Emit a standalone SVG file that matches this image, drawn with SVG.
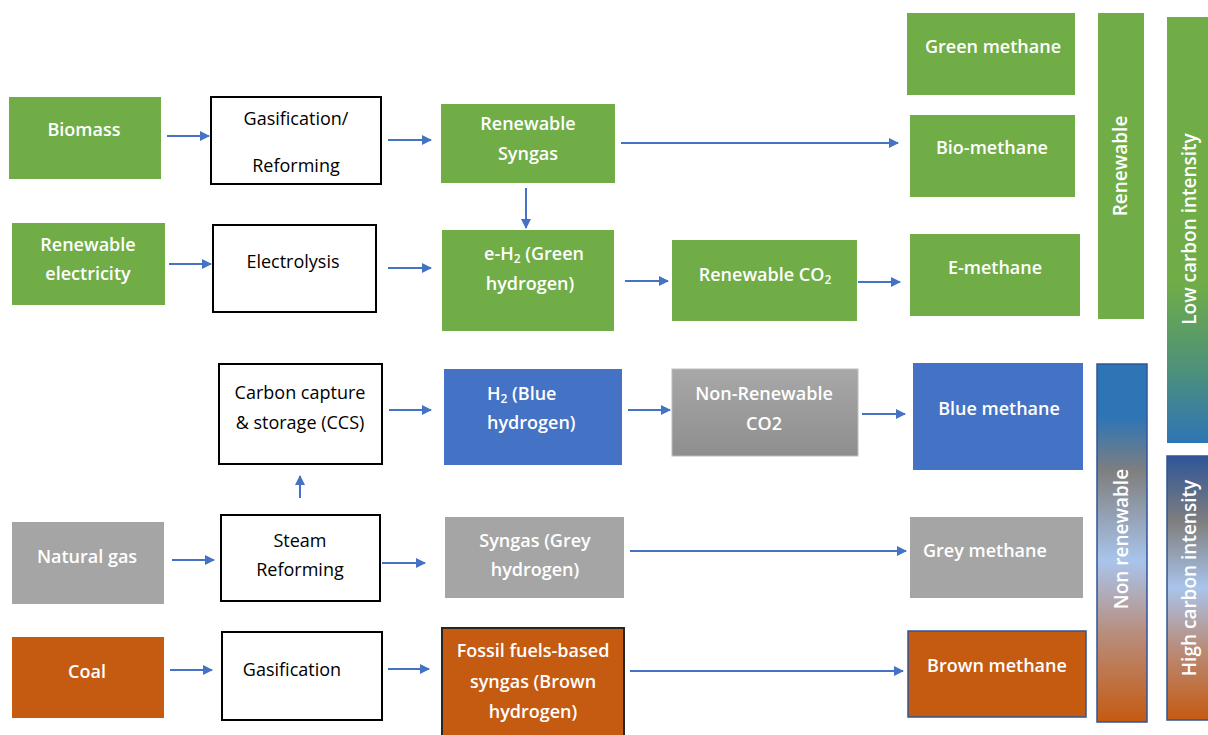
<svg xmlns="http://www.w3.org/2000/svg" width="1208" height="735" viewBox="0 0 1208 735">
<style>
.g{fill:#70AD47}
.b{fill:#4472C4}
.gr{fill:#A5A5A5}
.o{fill:#C55A11}
.w{fill:#fff;stroke:#000;stroke-width:2}
.tw{font-family:"Open Sans","Liberation Sans",sans-serif;font-weight:600;font-size:18px;fill:#fff;text-anchor:middle}
.tb{font-family:"Open Sans","Liberation Sans",sans-serif;font-weight:400;font-size:18px;fill:#000;text-anchor:middle}
.tv{font-family:"Open Sans","Liberation Sans",sans-serif;font-weight:600;font-size:19px;fill:#fff;text-anchor:middle}
.sub{font-size:12px}
.c{stroke:#4472C4;stroke-width:2;fill:none;marker-end:url(#ah)}
</style>
<defs>
<marker id="ah" viewBox="0 0 10 10" refX="9" refY="5" markerWidth="5" markerHeight="5" orient="auto" markerUnits="strokeWidth">
<path d="M0,0 L10,5 L0,10 z" fill="#4472C4"/>
</marker>
<linearGradient id="lowG" x1="0" y1="0" x2="0" y2="1">
<stop offset="0" stop-color="#70AD47"/>
<stop offset="0.62" stop-color="#70AD47"/>
<stop offset="0.82" stop-color="#4F9278"/>
<stop offset="1" stop-color="#2E75B6"/>
</linearGradient>
<linearGradient id="nonG" x1="0" y1="0" x2="0" y2="1">
<stop offset="0" stop-color="#2E75B6"/>
<stop offset="0.15" stop-color="#2E75B6"/>
<stop offset="0.3" stop-color="#7F7F7F"/>
<stop offset="0.55" stop-color="#A9C4EB"/>
<stop offset="0.75" stop-color="#B88E7E"/>
<stop offset="1" stop-color="#C55A11"/>
</linearGradient>
<linearGradient id="highG" x1="0" y1="0" x2="0" y2="1">
<stop offset="0" stop-color="#2F5597"/>
<stop offset="0.25" stop-color="#7F7F7F"/>
<stop offset="0.5" stop-color="#A9C4EB"/>
<stop offset="0.72" stop-color="#B88E7E"/>
<stop offset="1" stop-color="#C55A11"/>
</linearGradient>
<linearGradient id="nrco2" x1="0" y1="0" x2="0" y2="1">
<stop offset="0" stop-color="#A8A8A8"/>
<stop offset="1" stop-color="#8E8E8E"/>
</linearGradient>
</defs>

<g id="connectors">
<line class="c" x1="167" y1="136" x2="209" y2="136"/>
<line class="c" x1="388" y1="140" x2="431" y2="140"/>
<line class="c" x1="621" y1="143" x2="898" y2="143"/>
<line class="c" x1="526" y1="188" x2="526" y2="228"/>
<line class="c" x1="169" y1="264" x2="211" y2="264"/>
<line class="c" x1="388" y1="268" x2="431" y2="268"/>
<line class="c" x1="625" y1="281" x2="668" y2="281"/>
<line class="c" x1="858" y1="282" x2="900" y2="282"/>
<line class="c" x1="389" y1="410" x2="431" y2="410"/>
<line class="c" x1="628" y1="410" x2="670" y2="410"/>
<line class="c" x1="862" y1="414" x2="905" y2="414"/>
<line class="c" x1="300" y1="498" x2="300" y2="476"/>
<line class="c" x1="172" y1="560" x2="214" y2="560"/>
<line class="c" x1="382" y1="563" x2="425" y2="563"/>
<line class="c" x1="630" y1="551" x2="906" y2="551"/>
<line class="c" x1="170" y1="670" x2="212" y2="670"/>
<line class="c" x1="388" y1="669" x2="429" y2="669"/>
<line class="c" x1="630" y1="671" x2="903" y2="671"/>
</g>

<g id="biomass"><rect class="g" x="9" y="97" width="152" height="82"/><text class="tw" x="84" y="136">Biomass</text></g>
<g id="gasification-reforming"><rect class="w" x="211" y="97" width="170" height="87"/><text class="tb" x="296" y="125">Gasification/</text><text class="tb" x="296" y="172">Reforming</text></g>
<g id="renewable-syngas"><rect class="g" x="441" y="104" width="174" height="79"/><text class="tw" x="528" y="130">Renewable</text><text class="tw" x="528" y="160">Syngas</text></g>

<g id="renewable-electricity"><rect class="g" x="12" y="223" width="153" height="82"/><text class="tw" x="88" y="251">Renewable</text><text class="tw" x="88" y="280">electricity</text></g>
<g id="electrolysis"><rect class="w" x="213" y="225" width="163" height="87"/><text class="tb" x="293" y="268">Electrolysis</text></g>
<g id="green-hydrogen"><rect class="g" x="442" y="230" width="172" height="101"/><text class="tw" x="534" y="260">e-H<tspan class="sub" dy="3">2</tspan><tspan dy="-3"> (Green</tspan></text><text class="tw" x="530" y="290">hydrogen)</text></g>
<g id="renewable-co2"><rect class="g" x="672" y="240" width="185" height="81"/><text class="tw" x="765" y="281">Renewable CO<tspan class="sub" dy="3">2</tspan></text></g>

<g id="green-methane"><rect class="g" x="907" y="13" width="168" height="82"/><text class="tw" x="993" y="53">Green methane</text></g>
<g id="bio-methane"><rect class="g" x="910" y="115" width="165" height="82"/><text class="tw" x="992" y="154">Bio-methane</text></g>
<g id="e-methane"><rect class="g" x="910" y="234" width="170" height="82"/><text class="tw" x="995" y="274">E-methane</text></g>

<g id="ccs"><rect class="w" x="219" y="364" width="163" height="100"/><text class="tb" x="300" y="399">Carbon capture</text><text class="tb" x="300" y="429">&amp; storage (CCS)</text></g>
<g id="blue-hydrogen"><rect class="b" x="444" y="369" width="178" height="96"/><text class="tw" x="487" y="400" style="text-anchor:start">H<tspan class="sub" dy="3">2</tspan><tspan dy="-3"> (Blue</tspan></text><text class="tw" x="487" y="429" style="text-anchor:start">hydrogen)</text></g>
<g id="non-renewable-co2"><rect x="672" y="369" width="186" height="87" fill="url(#nrco2)" stroke="#BDBDBD" stroke-width="1"/><text class="tw" x="764" y="400">Non-Renewable</text><text class="tw" x="764" y="430">CO2</text></g>
<g id="blue-methane"><rect class="b" x="913" y="363" width="170" height="107"/><text class="tw" x="999" y="415">Blue methane</text></g>

<g id="natural-gas"><rect class="gr" x="12" y="522" width="152" height="82"/><text class="tw" x="87" y="563">Natural gas</text></g>
<g id="steam-reforming"><rect class="w" x="221" y="515" width="159" height="86"/><text class="tb" x="300" y="547">Steam</text><text class="tb" x="300" y="576">Reforming</text></g>
<g id="grey-hydrogen"><rect class="gr" x="445" y="517" width="179" height="81"/><text class="tw" x="535" y="547">Syngas (Grey</text><text class="tw" x="535" y="576">hydrogen)</text></g>
<g id="grey-methane"><rect class="gr" x="910" y="517" width="173" height="81"/><text class="tw" x="923" y="557" style="text-anchor:start">Grey methane</text></g>

<g id="coal"><rect class="o" x="12" y="637" width="152" height="81"/><text class="tw" x="87" y="678">Coal</text></g>
<g id="gasification"><rect class="w" x="222" y="632" width="160" height="88"/><text class="tb" x="292" y="676">Gasification</text></g>
<g id="brown-hydrogen"><rect class="o" x="442" y="628" width="182" height="112" stroke="#262626" stroke-width="2"/><text class="tw" x="533" y="657">Fossil fuels-based</text><text class="tw" x="533" y="688">syngas (Brown</text><text class="tw" x="533" y="718">hydrogen)</text></g>
<g id="brown-methane"><rect class="o" x="908" y="631" width="178" height="86" stroke="#2F5597" stroke-width="1.5"/><text class="tw" x="997" y="672">Brown methane</text></g>

<g id="renewable-bar"><rect class="g" x="1098" y="13" width="46" height="306"/><text class="tv" transform="translate(1127,166) rotate(-90)">Renewable</text></g>
<g id="low-carbon-bar"><rect x="1167" y="17" width="45" height="426" fill="url(#lowG)"/><text class="tv" transform="translate(1196,229) rotate(-90)">Low carbon intensity</text></g>
<g id="non-renewable-bar"><rect x="1097" y="364" width="50" height="358" fill="url(#nonG)" stroke="#2F5597" stroke-width="1.5"/><text class="tv" transform="translate(1128,539) rotate(-90)">Non renewable</text></g>
<g id="high-carbon-bar"><rect x="1167" y="456" width="45" height="264" fill="url(#highG)" stroke="#2F5597" stroke-width="1.5"/><text class="tv" transform="translate(1196,578) rotate(-90)">High carbon intensity</text></g>
</svg>
